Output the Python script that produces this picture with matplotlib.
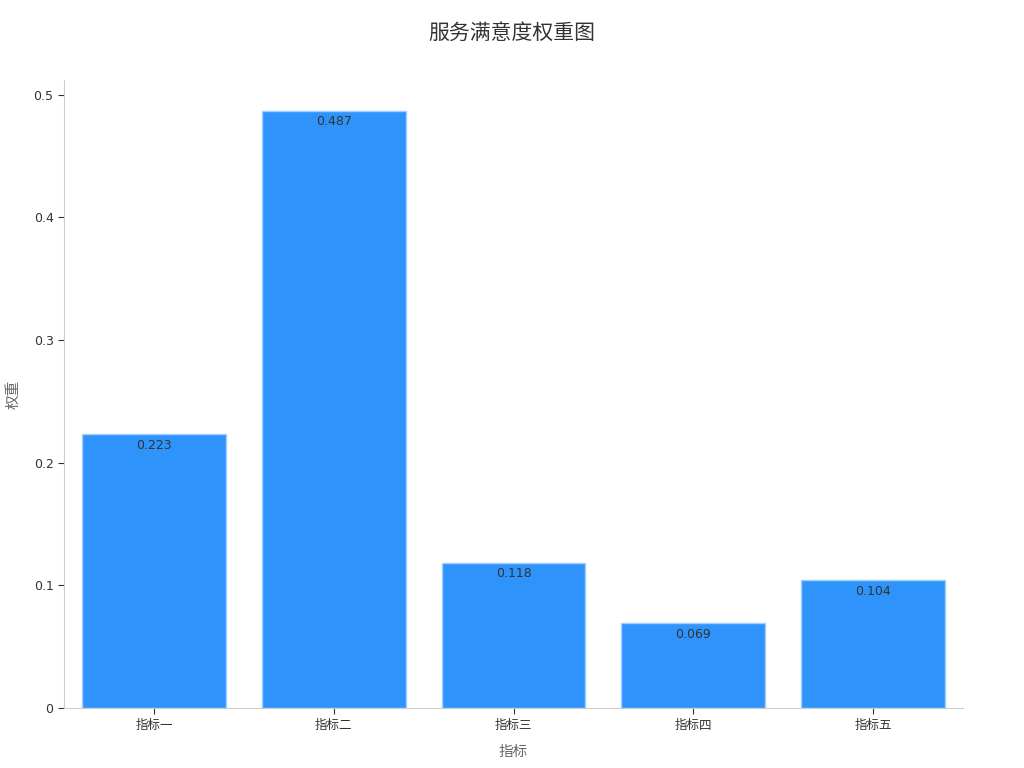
import matplotlib.pyplot as plt
import numpy as np

plt.rcParams['font.family'] = ['DejaVu Sans', 'Noto Sans CJK SC']

categories = ["指标一", "指标二", "指标三", "指标四", "指标五"]
weights = [0.223, 0.487, 0.118, 0.069, 0.104]

fig = plt.figure(figsize=(10.24, 7.68), dpi=100)
ax = fig.add_axes([0.0625, 0.078, 0.878, 0.818])

x = np.arange(len(categories))
bars = ax.bar(x, weights, width=0.8, color="#2E93FA", edgecolor="#9fd0ff", linewidth=1)

for b, v in zip(bars, weights):
    ax.annotate(f"{v:.3f}", (b.get_x() + b.get_width() / 2, v), xytext=(0, -3),
                textcoords="offset points", ha="center", va="top",
                fontsize=9, color="#333333")

ax.set_xlim(-0.5, 4.5)
ax.set_ylim(0, 0.512)
ax.set_xticks(x)
ax.set_xticklabels(categories)
ax.set_yticks([0, 0.1, 0.2, 0.3, 0.4, 0.5])
ax.set_yticklabels(["0", "0.1", "0.2", "0.3", "0.4", "0.5"])
ax.tick_params(labelsize=9, colors="#333333", length=4, width=0.8)

for s in ["top", "right"]:
    ax.spines[s].set_visible(False)
for s in ["left", "bottom"]:
    ax.spines[s].set_color("#cccccc")

ax.set_xlabel("指标", fontsize=10.5, color="#666666", labelpad=9)
ax.set_ylabel("权重", fontsize=10.5, color="#666666", labelpad=9)
fig.suptitle("服务满意度权重图", fontsize=15, color="#333333", y=0.97)

fig.savefig("out.png", dpi=100)
